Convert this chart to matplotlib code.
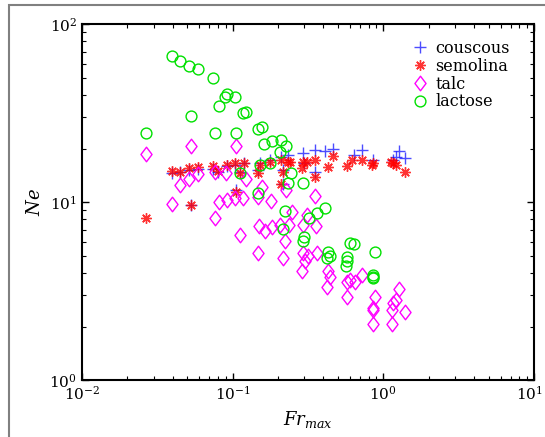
import matplotlib
matplotlib.use("Agg")
import matplotlib.pyplot as plt
import matplotlib.transforms as mtransforms
from matplotlib.patches import Rectangle
from matplotlib.path import Path

plt.rcParams['font.family'] = ['DejaVu Serif']
plt.rcParams['mathtext.fontset'] = 'dejavuserif'

# couscous (blue +)
fr_cous = [0.0397, 0.0447, 0.0515, 0.0592, 0.0531, 0.0743, 0.0804, 0.0912, 0.1032, 0.119,
           0.1057, 0.112, 0.148, 0.152, 0.177, 0.211, 0.234, 0.217, 0.217, 0.294,
           0.352, 0.410, 0.466, 0.352, 0.638, 0.718, 0.857, 1.164, 1.277, 1.40,
           1.21, 0.30]
ne_cous = [14.5, 14.7, 15.1, 15.4, 9.62, 15.4, 14.7, 15.9, 16.1, 16.6,
           11.7, 14.7, 15.1, 16.5, 17.2, 18.0, 18.4, 12.7, 15.1, 18.9,
           19.6, 19.4, 20.0, 14.8, 18.4, 19.6, 17.2, 17.2, 19.4, 17.6,
           18.0, 16.6]

# semolina (red asterisk)
fr_sem = [0.0267, 0.0397, 0.0447, 0.0515, 0.0592, 0.0531, 0.0743, 0.0804, 0.0912, 0.1032,
          0.119, 0.1057, 0.112, 0.148, 0.152, 0.177, 0.211, 0.234, 0.217, 0.211,
          0.240, 0.287, 0.294, 0.310, 0.352, 0.352, 0.432, 0.466, 0.571, 0.617,
          0.718, 0.857, 0.84, 1.164, 1.21, 1.13, 1.40]
ne_sem = [8.15, 15.0, 14.8, 15.5, 15.8, 9.62, 15.9, 15.0, 16.1, 16.5,
          16.6, 11.4, 14.5, 14.6, 16.1, 16.8, 17.2, 16.8, 14.8, 12.7,
          16.8, 15.5, 16.8, 16.8, 17.2, 13.9, 15.8, 18.1, 15.9, 17.2,
          17.2, 16.6, 16.1, 16.5, 16.1, 16.8, 14.8]

# talc (magenta diamond)
fr_talc = [0.0267, 0.0397, 0.0447, 0.0515, 0.0531, 0.0592, 0.0764, 0.0764, 0.090, 0.0815,
           0.0912, 0.1035, 0.1057, 0.1178, 0.112, 0.122, 0.157, 0.148, 0.179, 0.226,
           0.247, 0.310, 0.352, 0.150, 0.164, 0.182, 0.206, 0.236, 0.294, 0.358,
           0.222, 0.148, 0.217, 0.294, 0.318, 0.302, 0.287, 0.361, 0.432, 0.443,
           0.425, 0.571, 0.601, 0.649, 0.571, 0.718, 0.881, 0.857, 0.85, 0.857,
           1.135, 1.277, 1.213, 1.164, 1.135, 1.40]
ne_talc = [18.6, 9.71, 12.5, 13.4, 20.6, 14.3, 8.10, 14.8, 14.5, 10.0,
           10.3, 10.5, 20.6, 10.5, 6.50, 13.4, 12.2, 10.7, 10.1, 11.7,
           8.85, 8.45, 10.8, 7.35, 6.9, 7.28, 7.43, 7.43, 7.43, 7.3,
           6.02, 5.17, 4.83, 5.15, 4.97, 4.65, 4.12, 5.15, 4.12, 3.80,
           3.34, 3.57, 3.65, 3.57, 2.94, 3.89, 2.94, 2.53, 2.47, 2.08,
           2.08, 3.27, 2.81, 2.70, 2.47, 2.42]

# lactose (green circle)
fr_lac = [0.0267, 0.0397, 0.0449, 0.0515, 0.0592, 0.0531, 0.0739, 0.0764, 0.0811, 0.0912,
          0.0893, 0.1035, 0.1057, 0.112, 0.1178, 0.122, 0.147, 0.157, 0.161, 0.1815,
          0.211, 0.226, 0.207, 0.152, 0.177, 0.243, 0.234, 0.292, 0.148, 0.222,
          0.361, 0.410, 0.323, 0.217, 0.297, 0.292, 0.601, 0.638, 0.432, 0.443,
          0.425, 0.577, 0.571, 0.565, 0.881, 0.849, 0.857, 0.853]
ne_lac = [24.4, 66.1, 61.7, 58.3, 56.1, 30.3, 49.9, 24.4, 34.5, 40.3,
          39.0, 39.0, 24.4, 14.5, 31.6, 32.0, 25.8, 26.4, 21.1, 22.0,
          22.3, 20.6, 19.2, 16.1, 16.6, 14.6, 12.8, 12.8, 11.2, 8.90,
          8.67, 9.22, 8.10, 7.03, 6.38, 6.02, 5.89, 5.81, 5.26, 4.97,
          4.83, 4.93, 4.68, 4.39, 5.26, 3.89, 3.73, 3.80]

# matlab-like diamond (a bit wider than matplotlib's thin diamond)
diamond = Path([(0, 1), (0.76, 0), (0, -1), (-0.76, 0), (0, 1)],
               [Path.MOVETO, Path.LINETO, Path.LINETO, Path.LINETO, Path.CLOSEPOLY])

fig = plt.figure(figsize=(5.45, 4.37), dpi=100)
ax = fig.add_axes([0.150, 0.130, 0.830, 0.815])

# grey frame of the original figure window
fig.patches.append(Rectangle((9 / 545, -0.1), 1.2, 1.1 - 5 / 437,
                             transform=fig.transFigure, fill=False,
                             edgecolor='#808080', linewidth=1.5))

ax.plot(fr_cous, ne_cous, '+', color='#0000ff', ms=8, mew=1.0, alpha=0.7, label='couscous')
ax.plot(fr_sem, ne_sem, linestyle='none', marker=(8, 2, 0), color='#ff0000', ms=7.5, mew=1.0,
        alpha=0.8, label='semolina')
ax.plot(fr_talc, ne_talc, linestyle='none', marker=diamond, mfc='none', mec='#ff00ff',
        ms=10.5, mew=1.0, label='talc')
ax.plot(fr_lac, ne_lac, 'o', mfc='none', mec='#00e000', ms=7.8, mew=1.0, label='lactose')

ax.set_xscale('log')
ax.set_yscale('log')
ax.set_xlim(1e-2, 1e1)
ax.set_ylim(1e0, 1e2)
ax.set_xticks([1e-2, 1e-1, 1e0, 1e1])

ax.tick_params(which='both', direction='in', top=True, right=True, labelsize=11)
ax.tick_params(which='major', length=5, width=1)
ax.tick_params(which='minor', length=3, width=0.8)
for s in ax.spines.values():
    s.set_linewidth(1.5)

ax.set_xlabel(r'$Fr_{max}$', fontsize=13)
ax.set_ylabel(r'$Ne$', fontsize=13)

ax.legend(loc='upper right', bbox_to_anchor=(0.982, 1.0), frameon=False, fontsize=11.5,
          handlelength=1.0, handletextpad=0.5, labelspacing=0.05, borderaxespad=0.6)

# the 10^1 label sits at the figure edge; nudge it left so it fits
fig.canvas.draw()
last = ax.xaxis.get_major_ticks()[3].label1
shift = mtransforms.ScaledTranslation(-5 / 100, 0, fig.dpi_scale_trans)
last.set_transform(last.get_transform() + shift)

fig.savefig('out.png', dpi=100)
